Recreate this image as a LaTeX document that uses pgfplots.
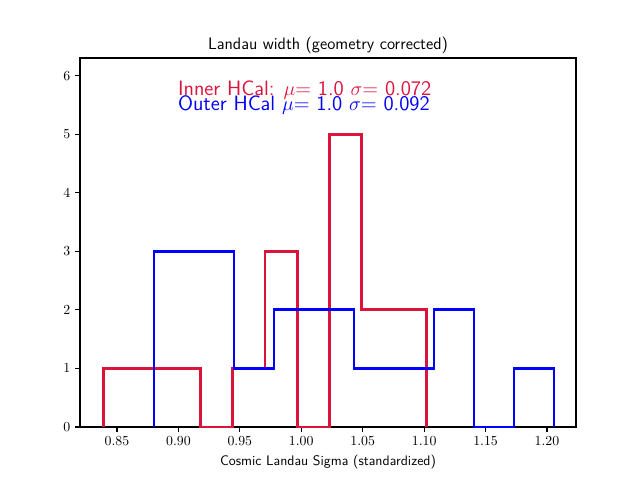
\documentclass[border=0pt]{standalone}
\usepackage{pgfplots}
\pgfplotsset{compat=1.18}
\definecolor{crim}{RGB}{220,20,60}
\definecolor{pblue}{RGB}{0,0,255}
\begin{document}
\begin{tikzpicture}
\useasboundingbox (-0.80in,-0.53in) rectangle (5.60in,4.27in);
\begin{axis}[
  at={(0,0)}, anchor=origin,
  scale only axis, width=4.96in, height=3.69in,
  xmin=0.8199, xmax=1.2236, ymin=0, ymax=6.30,
  xtick={0.85,0.90,...,1.21}, ytick={0,1,2,3,4,5,6},
  xticklabel style={/pgf/number format/fixed, /pgf/number format/fixed zerofill, /pgf/number format/precision=2},
  tick align=outside, xtick pos=bottom, ytick pos=left,
  major tick length=3.5pt,
  tick label style={font=\fontsize{10}{12}\selectfont},
  axis line style={line width=0.8pt}, tick style={line width=0.8pt, black},
  title={\sffamily\fontsize{12}{14}\selectfont Landau width (geometry corrected)},
  title style={yshift=-6.5pt},
  xlabel={\sffamily\fontsize{10}{12}\selectfont Cosmic Landau Sigma (standardized)},
  xlabel style={yshift=0pt},
]
\addplot[crim, line width=2pt, line join=miter] coordinates {
(0.8389,0) (0.8389,1) (0.8652,1) (0.8915,1) (0.9178,1) (0.9178,0) (0.9441,0) (0.9441,1) (0.9704,1) (0.9704,3) (0.9967,3) (0.9967,0) (1.0230,0) (1.0230,5) (1.0493,5) (1.0493,2) (1.0756,2) (1.1019,2) (1.1019,0)
};
\addplot[pblue, line width=2pt, line join=miter] coordinates {
(0.8801,0) (0.8801,3) (0.9127,3) (0.9452,3) (0.9452,1) (0.9778,1) (0.9778,2) (1.0103,2) (1.0429,2) (1.0429,1) (1.0754,1) (1.1080,1) (1.1080,2) (1.1405,2) (1.1405,0) (1.1731,0) (1.1731,1) (1.2056,1) (1.2056,0)
};
\node[anchor=base west, inner sep=0pt, text=crim, font=\sffamily\fontsize{15}{17}\selectfont] at (axis cs:0.8995,5.666) {Inner HCal: $\mu$= 1.0 $\sigma$= 0.072};
\node[anchor=base west, inner sep=0pt, text=pblue, font=\sffamily\fontsize{15}{17}\selectfont] at (axis cs:0.8995,5.41) {Outer HCal $\mu$= 1.0 $\sigma$= 0.092};
\end{axis}
\end{tikzpicture}
\end{document}
